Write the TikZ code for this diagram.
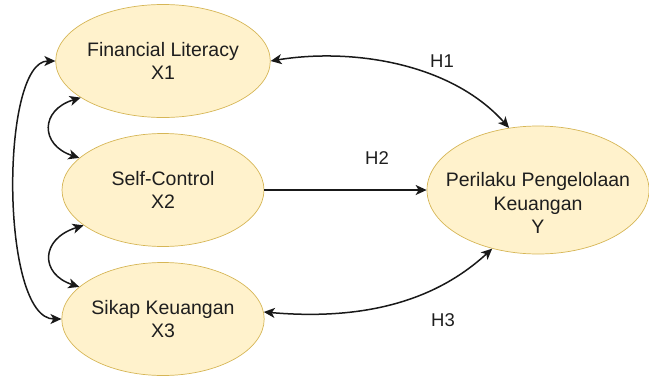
\documentclass[tikz,border=0pt]{standalone}
\usepackage{fontspec}
\setmainfont{Liberation Sans}
\usetikzlibrary{shapes.geometric,arrows.meta}
\definecolor{fillc}{HTML}{FFF2CC}
\definecolor{drawc}{HTML}{D6B656}
\definecolor{txtc}{HTML}{1E1E1E}
\tikzset{
  var/.style={ellipse, fill=fillc, draw=drawc, line width=0.7pt, inner sep=0pt,
    minimum width=202pt, minimum height=113pt, align=center, text=txtc,
    font=\fontsize{19.5}{23}\selectfont},
  txt/.style={align=center, text=txtc, inner sep=0pt, font=\fontsize{19.5}{23.5}\selectfont},
  lab/.style={text=txtc, inner sep=0pt, font=\fontsize{18.5}{22}\selectfont},
  tip/.style={Stealth[length=11pt,width=10pt,inset=3pt]},
  conn/.style={line width=1.5pt, draw=black!90, {Stealth[length=11pt,width=10pt,inset=3pt]}-{Stealth[length=11pt,width=10pt,inset=3pt]}},
  one/.style={line width=1.5pt, draw=black!90, -{Stealth[length=11pt,width=10pt,inset=3pt]}}
}
\begin{document}
\begin{tikzpicture}[x=1pt,y=-1pt]
\useasboundingbox (0,0) rectangle (649,376);
\node[var] (X1) at (163,61) {Financial Literacy\\X1};
\node[var] (X2) at (163,190) {Self-Control\\X2};
\node[var] (X3) at (163,319) {Sikap Keuangan\\X3};
\node[var, minimum width=222pt, minimum height=128pt] (Y) at (538,190) {};
\node[txt] (Yt) at (538,203) {Perilaku Pengelolaan\\Keuangan\\Y};
% left correlations
\draw[conn] (X1.204) .. controls (40,110) and (40,145) .. (X2.159);
\draw[conn] (X2.204) .. controls (40,239) and (40,274) .. (X3.159);
\draw[conn] (X1.west) .. controls (0,61) and (0,319) .. (X3.west);
% hypotheses
\draw[conn] (X1.east) .. controls (350,48) and (450,62) .. (Y.115);
\draw[one] (X2.east) -- (Y.west);
\draw[conn] (X3.4) .. controls (380,322) and (445,292) .. (Y.232);
\node[lab] (H1) at (442,61) {H1};
\node[lab] (H2) at (377,158) {H2};
\node[lab] (H3) at (443,320) {H3};
\end{tikzpicture}
\end{document}
